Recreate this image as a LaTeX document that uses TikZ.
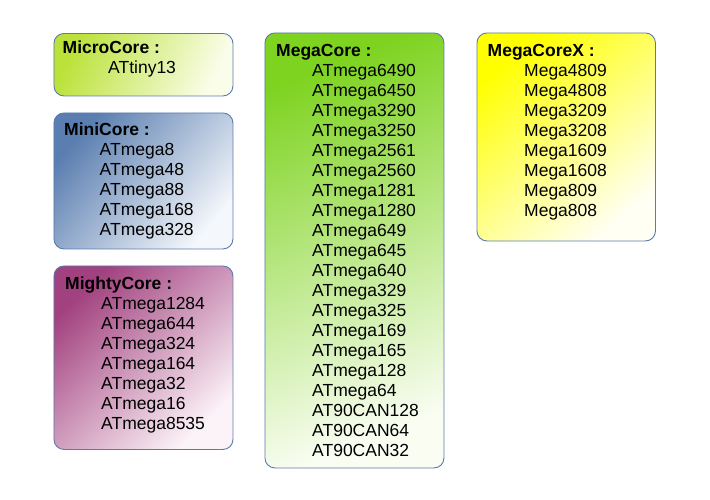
\documentclass[tikz,border=0pt]{standalone}
\usepackage{fontspec}
\setmainfont{Liberation Sans}
\definecolor{bordercol}{HTML}{5A7AAE}
\definecolor{microA}{HTML}{BBE23A}
\definecolor{microB}{HTML}{FBFDEB}
\definecolor{miniA}{HTML}{5A7EB0}
\definecolor{miniB}{HTML}{F4F7FB}
\definecolor{mightyA}{HTML}{A2417F}
\definecolor{mightyB}{HTML}{FCF3F8}
\definecolor{megaA}{HTML}{7ED321}
\definecolor{megaB}{HTML}{F9FDF2}
\definecolor{megaxA}{HTML}{FFFF00}
\definecolor{megaxB}{HTML}{FFFFF4}
\begin{document}
\begin{tikzpicture}[x=1pt,y=-1pt,
  corebox/.style={draw=bordercol, line width=0.9pt, rounded corners=10pt,
    anchor=north west, inner sep=0pt},
  grad/.style n args={3}{top color=#1, bottom color=#2, shading angle=#3},
  title/.style={anchor=base west, inner sep=0pt, font=\fontsize{17.5}{20}\selectfont\bfseries},
  item/.style={anchor=base west, inner sep=0pt, font=\fontsize{17.5}{20}\selectfont}]
\useasboundingbox (0,0) rectangle (710,499);
% boxes
\node[corebox, grad={microA}{microB}{65}, minimum width=179pt, minimum height=62.5pt] (micro) at (53.5,33) {};
\node[corebox, grad={miniA}{miniB}{50}, minimum width=179pt, minimum height=136pt] (mini) at (53.5,112.5) {};
\node[corebox, grad={mightyA}{mightyB}{44}, minimum width=179pt, minimum height=183.5pt] (mighty) at (53.5,265.5) {};
\node[corebox, grad={megaA}{megaB}{22}, minimum width=179pt, minimum height=435pt] (mega) at (264.5,32.5) {};
\node[corebox, grad={megaxA}{megaxB}{40}, minimum width=178.5pt, minimum height=208pt] (megax) at (476.5,32.5) {};
% MicroCore
\node[title] (microT) at (62.5,53) {MicroCore :};
\node[item] (micro1) at (108,73) {ATtiny13};
% MiniCore
\node[title] (miniT) at (64,135) {MiniCore :};
\foreach \t [count=\i from 0] in {ATmega8,ATmega48,ATmega88,ATmega168,ATmega328}
  \node[item] (mini\i) at (99.5,155+20*\i) {\t};
% MightyCore
\node[title] (mightyT) at (65,289) {MightyCore :};
\foreach \t [count=\i from 0] in {ATmega1284,ATmega644,ATmega324,ATmega164,ATmega32,ATmega16,ATmega8535}
  \node[item] (mighty\i) at (101,309+20*\i) {\t};
% MegaCore
\node[title] (megaT) at (276,56) {MegaCore :};
\foreach \t [count=\i from 0] in {ATmega6490,ATmega6450,ATmega3290,ATmega3250,ATmega2561,ATmega2560,ATmega1281,ATmega1280,ATmega649,ATmega645,ATmega640,ATmega329,ATmega325,ATmega169,ATmega165,ATmega128,ATmega64,AT90CAN128,AT90CAN64,AT90CAN32}
  \node[item] (mega\i) at (312,76+20*\i) {\t};
% MegaCoreX
\node[title] (megaxT) at (487.5,56) {MegaCoreX :};
\foreach \t [count=\i from 0] in {Mega4809,Mega4808,Mega3209,Mega3208,Mega1609,Mega1608,Mega809,Mega808}
  \node[item] (megax\i) at (524,76+20*\i) {\t};
\end{tikzpicture}
\end{document}
